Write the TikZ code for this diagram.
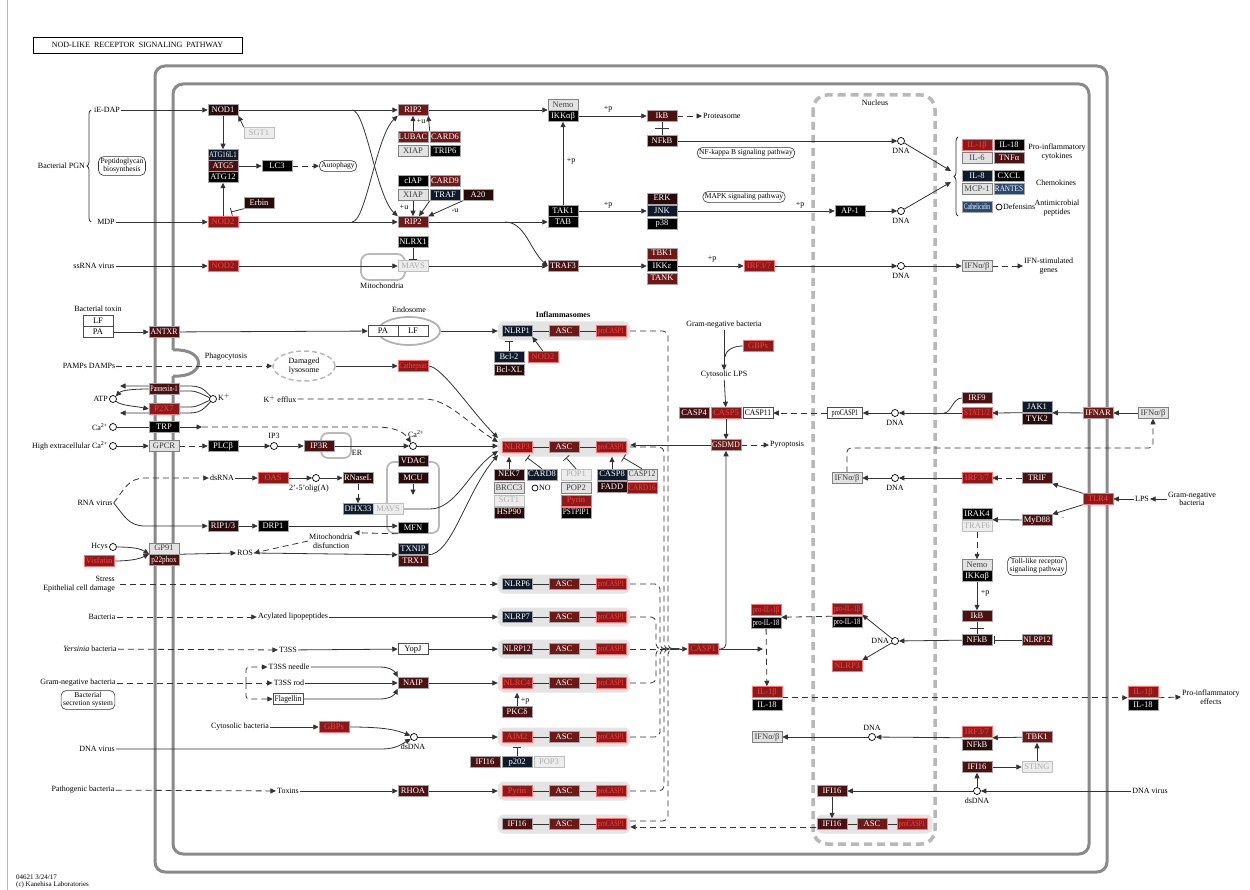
\documentclass[tikz,border=0pt]{standalone}
\usepackage{fontspec}
\setmainfont{Liberation Serif}
\usepackage{graphicx}
\usetikzlibrary{arrows.meta,shapes.geometric,calc,decorations.pathreplacing}
\pgfdeclarelayer{back}
\pgfdeclarelayer{lines}
\pgfsetlayers{back,lines,main}
\definecolor{cA}{HTML}{2A0B0B}
\definecolor{cB}{HTML}{4E1111}
\definecolor{cC}{HTML}{6E1818}
\definecolor{cR}{HTML}{8C1A1A}
\definecolor{cRt}{HTML}{FF4040}
\definecolor{cRb}{HTML}{FF7070}
\definecolor{cN}{HTML}{0F1B2B}
\definecolor{cBl}{HTML}{2B4A72}
\definecolor{cG}{HTML}{E2E2E2}
\definecolor{cL}{HTML}{EDEDED}
\definecolor{mem}{HTML}{8A8A8A}
\definecolor{bandc}{HTML}{E4E4E4}
\definecolor{nuc}{HTML}{B8B8B8}
\newcommand{\myS}[2]{\scalebox{#1}[1]{#2}}
\newcommand{\pcs}{\myS{0.72}{proCASP1}}
\tikzset{
 box/.style={draw=gray!70, line width=0.5pt, minimum width=30pt, minimum height=11pt, inner sep=0pt, font=\fontsize{8.5}{9}\selectfont, text height=5.8pt, text depth=1.6pt},
 gA/.style={box, fill=cA, text=white},
 gB/.style={box, fill=cB, text=white},
 gC/.style={box, fill=cC, text=white},
 gR/.style={box, fill=cR, text=cRt, draw=cRb},
 gK/.style={box, fill=black, text=white},
 gN/.style={box, fill=cN, text=white},
 gBl/.style={box, fill=cBl, text=white},
 gG/.style={box, fill=cG, text=black!75, draw=gray},
 gL/.style={box, fill=cL, text=gray!65, draw=gray!50},
 gW/.style={box, fill=white, text=black, draw=black!70},
 lbl/.style={font=\fontsize{8}{8.6}\selectfont, inner sep=1pt, align=center},
 dnac/.style={circle, draw=black, fill=white, minimum size=7pt, inner sep=0pt, line width=0.7pt},
 ln/.style={line width=0.8pt, draw=black!80},
 ar/.style={ln, -{Triangle[length=5.5pt,width=5pt]}},
 da/.style={ar, dash pattern=on 6pt off 4pt},
 dl/.style={ln, dash pattern=on 6pt off 4pt},
 inh/.style={ln, -{Bar[width=8pt]}},
 pw/.style={draw=black!80, line width=0.6pt, rounded corners=5pt, font=\fontsize{7.5}{8}\selectfont, inner sep=2pt, align=center},
 memb/.style={draw=mem, line width=3pt},
 bandst/.style={fill=bandc, rounded corners=6pt, minimum width=132pt, minimum height=19pt, inner sep=0pt},
 shp/.style={draw=gray!55, line width=1.8pt},
}
\begin{document}
\begin{tikzpicture}[x=1pt,y=-1pt]
\useasboundingbox (0,0) rectangle (1250,890);
\begin{pgfonlayer}{back}
\fill[white] (0,0) rectangle (1250,890);
\draw[gray!55, line width=0.8pt] (7,0) -- (7,890);
\draw[memb, rounded corners=10pt] (155,66) rectangle (1107,872);
\draw[memb, rounded corners=10pt] (173,350) -- (173,84) -- (1089,84) -- (1089,854) -- (173,854) -- (173,376);
\draw[memb] (173,376) .. controls (207,378) and (207,348) .. (173,350);
\draw[nuc, line width=3.5pt, dash pattern=on 8pt off 5pt, rounded corners=14pt] (813,95) rectangle (935,844);
\draw[shp, rounded corners=8pt] (361,254) rectangle (405,280);
\draw[shp, rounded corners=7pt] (321,433) rectangle (351,458);
\draw[shp, rounded corners=7pt] (387,462) rectangle (439,533);
\node[bandst] (band1) at (564,331) {};
\node[bandst] (band2) at (564,447) {};
\node[bandst] (band3) at (564,584) {};
\node[bandst] (band4) at (564,617) {};
\node[bandst] (band5) at (564,649) {};
\node[bandst] (band6) at (564,683) {};
\node[bandst] (band7) at (564,737) {};
\node[bandst] (band8) at (564,791) {};
\node[bandst] (band9) at (564,824) {};
\node[bandst, minimum width=116pt] (nband) at (874.5,824) {};
\end{pgfonlayer}

% ---------- title / footer
\node[draw, line width=0.8pt, minimum width=209pt, minimum height=16pt, inner sep=0pt, font=\fontsize{8}{9}\selectfont] (title) at (137.5,45) {NOD-LIKE\ \ RECEPTOR\ \ SIGNALING\ \ PATHWAY};
\node[lbl, anchor=west, font=\fontsize{7}{7.5}\selectfont] (ver) at (15,877) {04621 3/24/17};
\node[lbl, anchor=west, font=\fontsize{7}{7.5}\selectfont] (copyr) at (15,885) {(c) Kanehisa Laboratories};
\node[lbl] (nucl) at (875,103) {Nucleus};
\node[lbl, font=\fontsize{8}{9}\selectfont\bfseries] (inflam) at (563,315) {Inflammasomes};

% ---------- top left
\node[lbl] (iedap) at (107,110) {iE-DAP};
\node[lbl] (mdp) at (106,222) {MDP};
\node[lbl, anchor=east] (bpgn) at (86,166) {Bacterial PGN};
\node[pw] (pgbio) at (122,166) {Peptidoglycan\\biosynthesis};
\node[gA] (nod1) at (223,110) {NOD1};
\node[gL] (sgt1a) at (259,133) {SGT1};
\node[gN] (atg16) at (223,155) {\myS{0.8}{ATG16L1}};
\node[gB] (atg5) at (223,166) {ATG5};
\node[gK] (atg12) at (223,177) {ATG12};
\node[gK] (lc3) at (277,166) {LC3};
\node[pw] (autoph) at (338,166) {Autophagy};
\node[gA] (erbin) at (259,203) {Erbin};
\node[gR] (nod2a) at (223,222) {NOD2};
\node[lbl] (ssrna) at (94,266) {ssRNA virus};
\node[gR] (nod2b) at (223,266) {NOD2};
\coordinate (erbT) at (231,212);
\coordinate (x1) at (352,110);
\coordinate (x2) at (352,222);

% ---------- RIP2 block
\node[gC] (rip2a) at (413,110) {RIP2};
\node[gC] (lubac) at (413,137) {LUBAC};
\node[gC] (card6) at (445,137) {CARD6};
\node[gG] (xiap1) at (413,151) {XIAP};
\node[gK] (trip6) at (445,151) {TRIP6};
\node[gK] (ciap) at (413,181) {cIAP};
\node[gC] (card9) at (445,181) {CARD9};
\node[gG] (xiap2) at (413,195) {XIAP};
\node[gN] (traf) at (445,195) {TRAF};
\node[gA] (a20) at (478,195) {A20};
\node[gC] (rip2b) at (413,222) {RIP2};
\node[lbl] (pu1) at (421,121) {+u};
\node[lbl] (pu2) at (404,207) {+u};
\node[lbl] (mu1) at (455,211) {-u};
\node[gK] (nlrx1) at (413,242) {NLRX1};
\node[gL] (mavs1) at (413,266) {MAVS};
\node[lbl] (mitol) at (382,286) {Mitochondria};
\node[gG] (nemo1) at (563,105) {Nemo};
\node[gK] (ikk1) at (563,116) {IKKαβ};
\node[gK] (tak1) at (563,211) {TAK1};
\node[gK] (tab) at (563,222) {TAB};
\node[gB] (traf3) at (563,266) {TRAF3};
\node[lbl] (pp1) at (571,161) {+p};
\node[lbl] (pp2) at (608,109) {+p};
\node[lbl] (pp3) at (608,205) {+p};
\coordinate (x3) at (505,222);

% ---------- top middle
\node[gB] (ikb1) at (662,116) {IkB};
\node[gA] (nfkb1) at (662,141) {NFkB};
\node[lbl, anchor=west] (protea) at (702,116) {Proteasome};
\node[dnac] (dna1) at (901,141) {};
\node[lbl] (dna1l) at (901,151) {DNA};
\node[pw] (nfkbp) at (746,153) {NF-kappa B signaling pathway};
\node[gA] (erk) at (662,198.5) {ERK};
\node[gN] (jnk) at (662,211) {JNK};
\node[gK] (p38) at (662,223.5) {p38};
\node[pw] (mapkp) at (744,197) {MAPK signaling pathway};
\node[gK] (ap1) at (850,211) {AP-1};
\node[lbl] (pp4) at (800,205) {+p};
\node[dnac] (dna2) at (901,211) {};
\node[lbl] (dna2l) at (901,221) {DNA};
\node[gC] (tbk1a) at (662,253.5) {TBK1};
\node[gK] (ikke) at (662,266) {IKKε};
\node[gC] (tank) at (662,278.5) {TANK};
\node[gR] (irf37a) at (759,266) {IRF3/7};
\node[lbl] (pp5) at (712,259) {+p};
\node[dnac] (dna3) at (901,266) {};
\node[lbl] (dna3l) at (901,276) {DNA};
\node[gG] (ifnab1) at (977,266) {IFNα/β};
\node[lbl, anchor=west] (isg) at (1023,266) {IFN-stimulated\\genes};

% ---------- cytokines
\node[gR] (il1b1) at (977,145) {IL-1β};
\node[gK] (il18a) at (1009,145) {IL-18};
\node[gG] (il6) at (977,158) {IL-6};
\node[gB] (tnfa) at (1009,158) {TNFα};
\node[gN] (il8) at (977,176) {IL-8};
\node[gK] (cxcl) at (1009,176) {CXCL};
\node[gG] (mcp1) at (977,189) {MCP-1};
\node[gBl] (rantes) at (1009,189) {\myS{0.85}{RANTES}};
\node[gBl] (cathel) at (977,207) {\myS{0.62}{Cathelicidin}};
\node[dnac, minimum size=6pt] (defc) at (999,207) {};
\node[lbl, anchor=west] (defl) at (1002,207) {Defensins};
\node[lbl] (procyt) at (1057,152) {Pro-inflammatory\\cytokines};
\node[lbl] (chemo) at (1056,183) {Chemokines};
\node[lbl] (antimic) at (1057,208) {Antimicrobial\\peptides};
\coordinate (cyt1) at (951,171);
\coordinate (cyt2) at (951,182);

% ---------- left middle
\node[lbl] (btox) at (98,309) {Bacterial toxin};
\node[gW] (lf1) at (98,321) {LF};
\node[gW] (pa1) at (98,332) {PA};
\node[gB] (antxr) at (164,332) {\myS{0.92}{ANTXR}};
\node[ellipse, draw=gray!60, line width=1.8pt, minimum width=62pt, minimum height=28pt, inner sep=0pt] (endo) at (409,331) {};
\node[lbl] (endol) at (409,310) {Endosome};
\node[gW] (pa2) at (383,331) {PA};
\node[gW] (lf2) at (413,331) {LF};
\node[lbl] (pamps) at (89,366) {PAMPs DAMPs};
\node[lbl] (phago) at (226,357) {Phagocytosis};
\node[ellipse, draw=gray!55, line width=1.5pt, dash pattern=on 5pt off 3pt, minimum width=62pt, minimum height=30pt, inner sep=0pt, lbl] (dlys) at (304,366) {Damaged\\lysosome};
\node[gR] (cathep) at (413,366) {\myS{0.8}{Cathepsin}};
\node[lbl, anchor=east] (atpl) at (109,399) {ATP};
\node[dnac] (atp) at (113,399) {};
\node[gB] (panx) at (164,389) {\myS{0.7}{Pannexin-1}};
\node[gR] (p2x7) at (164,409) {P2X7};
\node[dnac] (kc) at (213,399) {};
\node[lbl, anchor=west] (kl) at (217,397) {K$^+$};
\node[lbl] (kefflux) at (280,399) {K$^+$ efflux};
\coordinate (atpU) at (120,386);
\coordinate (atpD) at (120,413);
\node[lbl, anchor=east] (cal) at (109,427) {Ca\textsuperscript{2+}};
\node[dnac] (cac) at (113,427) {};
\node[gK] (trp) at (164,427) {TRP};
\coordinate (trpA) at (202,427);
\node[lbl, anchor=east] (hec) at (109,446) {High extracellular Ca\textsuperscript{2+}};
\node[dnac] (hecc) at (113,446) {};
\node[gG] (gpcr) at (164,446) {GPCR};
\node[gK] (plcb) at (223,446) {PLCβ};
\node[dnac] (ip3) at (274,446) {};
\node[lbl] (ip3l) at (274,436) {IP3};
\node[gB] (ip3r) at (319,446) {IP3R};
\node[lbl] (erl) at (357,453) {ER};
\node[dnac] (ca2) at (413,446) {};
\node[lbl] (ca2l) at (416,434) {Ca\textsuperscript{2+}};
\node[gA] (vdac) at (413,461) {VDAC};
\node[gA] (mcu) at (413,478) {MCU};
\coordinate (mcuA) at (413,495);
\node[gK] (mfn) at (413,528) {MFN};
\node[gN] (dhx33) at (358,509) {DHX33};
\node[gL] (mavs2) at (388,509) {MAVS};
\node[gA] (rnasel) at (358,478) {RNaseL};
\node[dnac] (olig) at (316,478) {};
\node[lbl] (oligl) at (309,489) {2'-5'olig(A)};
\node[gR] (oas) at (273,478) {OAS};
\node[lbl] (dsrna) at (222,478) {dsRNA};
\node[lbl] (rnav) at (95,503) {RNA virus};
\node[gA] (rip13) at (223,526) {RIP1/3};
\node[gK] (drp1) at (273,526) {DRP1};
\node[lbl] (mdisf) at (331,541) {Mitochondria\\disfunction};
\node[lbl] (ros) at (245,553) {ROS};
\node[gG] (gp91) at (164,548.5) {GP91};
\node[gB] (p22) at (164,560) {\myS{0.85}{p22phox}};
\node[lbl, anchor=east] (hcysl) at (109,547) {Hcys};
\node[dnac] (hcys) at (113,547) {};
\node[gR] (visf) at (99,561) {Visfatin};
\coordinate (gpin) at (149,554);
\node[gN] (txnip) at (413,549) {TXNIP};
\node[gB] (trx1) at (413,561) {TRX1};
\coordinate (n3a) at (498,438);
\coordinate (n3b) at (498,442);
\coordinate (n3c) at (498,446);
\coordinate (n3d) at (498,451);
\coordinate (n3e) at (498,455);

% ---------- inflammasomes
\node[gN] (nlrp1) at (517,331) {NLRP1};
\node[gC] (asc1) at (564,331) {ASC};
\node[gR] (pc1) at (611,331) {\pcs};
\node[gN] (bcl2) at (509,357) {Bcl-2};
\node[gA] (bclxl) at (509,370) {Bcl-XL};
\node[gR] (nod2c) at (543,357) {NOD2};
\node[gR] (nlrp3) at (517,447) {NLRP3};
\node[gC] (asc2) at (564,447) {ASC};
\node[gR] (pc2) at (611,447) {\pcs};
\node[gA] (nek7) at (509,474.5) {NEK7};
\node[gN] (card8) at (542,474.5) {CARD8};
\node[gG] (brcc3) at (509,488) {BRCC3};
\node[dnac, minimum size=6pt] (noc) at (535,488) {};
\node[lbl, anchor=west] (nol) at (538,488) {NO};
\node[gL] (sgt1b) at (509,500.5) {SGT1};
\node[gA] (hsp90) at (509,512.5) {HSP90};
\node[gL] (pop1) at (576,474.5) {POP1};
\node[gG] (pop2) at (576,488) {POP2};
\node[gR] (pyrin1) at (576,500.5) {Pyrin};
\node[gK] (pstpip) at (576,512.5) {\myS{0.85}{PSTPIP1}};
\node[gN] (casp8) at (612,474.5) {CASP8};
\node[gA] (fadd) at (612,487) {FADD};
\node[gG] (casp12) at (642,474.5) {\myS{0.9}{CASP12}};
\node[gR] (card16) at (642,488) {\myS{0.85}{CARD16}};
\node[gN] (nlrp6) at (517,584) {NLRP6};
\node[gC] (asc3) at (564,584) {ASC};
\node[gR] (pc3) at (611,584) {\pcs};
\node[gN] (nlrp7) at (517,617) {NLRP7};
\node[gC] (asc4) at (564,617) {ASC};
\node[gR] (pc4) at (611,617) {\pcs};
\node[gB] (nlrp12) at (517,649) {\myS{0.9}{NLRP12}};
\node[gC] (asc5) at (564,649) {ASC};
\node[gR] (pc5) at (611,649) {\pcs};
\node[gR] (nlrc4) at (517,683) {NLRC4};
\node[gC] (asc6) at (564,683) {ASC};
\node[gR] (pc6) at (611,683) {\pcs};
\node[gB] (pkcd) at (517,712) {PKCδ};
\node[lbl] (pp6) at (525,701) {+p};
\node[gR] (aim2) at (517,737) {AIM2};
\node[gC] (asc7) at (564,737) {ASC};
\node[gR] (pc7) at (611,737) {\pcs};
\node[gB] (ifi16a) at (485,762) {IFI16};
\node[gN] (p202) at (517,762) {p202};
\node[gL] (pop3) at (549,762) {POP3};
\node[gR] (pyrin2) at (517,791) {Pyrin};
\node[gC] (asc8) at (564,791) {ASC};
\node[gR] (pc8) at (611,791) {\pcs};
\node[gB] (ifi16b) at (517,824) {IFI16};
\node[gC] (asc9) at (564,824) {ASC};
\node[gR] (pc9) at (611,824) {\pcs};

% ---------- lower left inputs
\node[lbl, anchor=east, align=right] (stress) at (116,584) {Stress\\Epithelial cell damage};
\node[lbl] (bact) at (102,617) {Bacteria};
\node[lbl] (acyl) at (293,617) {Acylated lipopeptides};
\node[lbl] (yers) at (90,649) {\textit{Yersinia} bacteria};
\node[lbl] (t3ss) at (288,650) {T3SS};
\node[gW] (yopj) at (413,649) {YopJ};
\node[lbl] (gramneg1) at (78,683) {Gram-negative bacteria};
\node[pw] (bss) at (88,700) {Bacterial\\secretion system};
\coordinate (gsplit) at (246,683);
\node[lbl] (t3n) at (289,667) {T3SS needle};
\node[lbl] (t3r) at (289,683) {T3SS rod};
\node[gW] (flag) at (288,699) {\myS{0.88}{Flagellin}};
\node[gB] (naip) at (413,683) {NAIP};
\node[lbl] (cytbac) at (240,727) {Cytosolic bacteria};
\node[gR] (gbps1) at (334,727) {GBPs};
\node[dnac] (dsdna1) at (414,737) {};
\node[lbl] (dsdna1l) at (413,747) {dsDNA};
\node[lbl] (dnavir1) at (97,749) {DNA virus};
\node[lbl] (pathb) at (83,790) {Pathogenic bacteria};
\node[lbl] (toxins) at (288,791) {Toxins};
\node[gB] (rhoa) at (413,791) {RHOA};

% ---------- middle right
\node[gR] (casp1) at (703,649) {CASP1};
\coordinate (cin) at (680,649);
\coordinate (c1a) at (763,649);
\node[gC] (gsdmd) at (726,445) {\myS{0.9}{GSDMD}};
\node[lbl, anchor=west] (pyro) at (769,445) {Pyroptosis};
\node[lbl] (gramneg2) at (724,325) {Gram-negative bacteria};
\node[lbl] (clps) at (724,375) {Cytosolic LPS};
\node[gR] (gbps2) at (758,346) {GBPs};
\coordinate (gbj) at (725,357);
\node[gB] (casp4) at (694,413) {CASP4};
\node[gR] (casp5) at (726,413) {CASP5};
\node[gW] (casp11) at (758,413) {\myS{0.9}{CASP11}};
\node[gW, minimum width=35pt] (pcn) at (845,413) {\pcs};
\node[dnac] (dna4) at (895,413) {};
\node[lbl] (dna4l) at (895,423) {DNA};
\node[gB] (irf9) at (977,398) {IRF9};
\node[gR] (stat) at (977,413) {\myS{0.85}{STAT1/2}};
\coordinate (irfj) at (944,413);
\node[gN] (jak1) at (1037,407) {JAK1};
\node[gA] (tyk2) at (1037,419) {TYK2};
\node[gC] (ifnar) at (1098,413) {IFNAR};
\node[gG] (ifnab2) at (1153,413) {IFNα/β};
\node[gG] (ifnab3) at (847,478) {IFNα/β};
\node[dnac] (dna5) at (895,478) {};
\node[lbl] (dna5l) at (895,488) {DNA};
\node[gR] (irf37b) at (977,478) {IRF3/7};
\node[gB] (trif) at (1037,478) {TRIF};
\node[gR] (tlr4) at (1098,499) {TLR4};
\node[gB] (myd88) at (1037,520) {MyD88};
\node[lbl] (dotp) at (1063,518) {.};
\node[gK] (irak4) at (977,514) {IRAK4};
\node[gL] (traf6) at (977,526) {TRAF6};
\node[lbl] (lps) at (1142,499) {LPS};
\node[lbl] (gramneg3) at (1192,499) {Gram-negative\\bacteria};
\node[gG] (nemo2) at (977,565) {Nemo};
\node[gK] (ikk2) at (977,576) {IKKαβ};
\node[pw] (tlrp) at (1037,566) {Toll-like receptor\\signaling pathway};
\node[gB] (ikb2) at (977,616) {IkB};
\node[lbl] (pp7) at (985,593) {+p};
\node[gA] (nfkb2) at (977,640) {NFkB};
\node[gB] (nlrp12b) at (1037,640) {\myS{0.9}{NLRP12}};
\node[dnac] (dna6) at (895,641) {};
\node[lbl, anchor=east] (dna6l) at (890,641) {DNA};
\node[gR] (proil1b2) at (847,609) {\myS{0.8}{pro-IL-1β}};
\node[gK] (proil18b) at (847,622) {\myS{0.8}{pro-IL-18}};
\node[gR] (nlrp3b) at (847,666) {NLRP3};
\node[gR] (proil1b1) at (766,610) {\myS{0.8}{pro-IL-1β}};
\node[gK] (proil18a) at (766,623) {\myS{0.8}{pro-IL-18}};
\node[gR] (il1b2) at (767,692) {IL-1β};
\node[gK] (il18b) at (767,705) {IL-18};
\node[gR] (il1b3) at (1143,692) {IL-1β};
\node[gK] (il18c) at (1143,705) {IL-18};
\node[lbl, anchor=west] (proinf) at (1181,697) {Pro-inflammatory\\effects};
\node[gG] (ifnab4) at (767,737) {IFNα/β};
\node[dnac] (dna7) at (872,737) {};
\node[lbl] (dna7l) at (872,728) {DNA};
\node[gR] (irf37c) at (977,732) {IRF3/7};
\node[gA] (nfkb3) at (977,745) {NFkB};
\node[gC] (tbk1b) at (1037,737) {TBK1};
\node[gB] (ifi16c) at (977,767) {IFI16};
\node[gL] (sting) at (1037,767) {STING};
\node[dnac] (dsdna2) at (977,791) {};
\node[lbl] (dsdna2l) at (977,801) {dsDNA};
\node[lbl] (dnavir2) at (1150,791) {DNA virus};
\node[gB] (ifi16d) at (832,791) {IFI16};
\node[gB] (ifi16e) at (832,824) {IFI16};
\node[gC] (asc10) at (872,824) {ASC};
\node[gR] (pc10) at (912,824) {\pcs};

% ================= connectors
\begin{pgfonlayer}{lines}
\draw[ln, decorate, decoration={brace, amplitude=4pt}] (91,222) -- (91,110);
\draw[ln, decorate, decoration={brace, amplitude=4pt}] (958,216) -- (958,137);
\draw[ar] (iedap) -- (nod1);
\draw[ar] (mdp) -- (nod2a);
\draw[ar] (ssrna) -- (nod2b);
\draw[ar] (sgt1a.north west) -- (nod1.south east);
\draw[ar] (nod1) -- (atg16);
\draw[ar] (nod2a) -- (atg12);
\draw[ar] (atg5) -- (lc3);
\draw[da] (lc3) -- (autoph);
\draw[inh] (erbin.south west) -- (erbT);
\draw[ar] (nod1) -- (rip2a);
\draw[ar] (nod2a) -- (rip2b);
\draw[ar] (x1) .. controls (366,110) and (376,196) .. (rip2b.north west);
\draw[ar] (x2) .. controls (366,222) and (376,136) .. (rip2a.south west);
\draw[ar] (lubac) -- (rip2a);
\draw[ar] (card6.north west) -- (rip2a.south east);
\draw[ar] (xiap2) -- (rip2b);
\draw[ar] (traf.south west) -- ($(rip2b.north)+(6,0)$);
\draw[ar] (a20.south west) -- (rip2b.north east);
\draw[ar] (rip2a) -- (rip2a -| ikk1.west);
\draw[ar] (rip2b) -- (tab);
\draw[ar] (tak1) -- (ikk1);
\draw[ar] (x3) .. controls (525,222) and (530,250) .. (traf3.west);
\draw[inh] (nlrx1) -- (mavs1);
\draw[ar] (nod2b) -- (mavs1);
\draw[ar] (mavs1) -- (traf3);
\draw[ar] (ikk1) -- (ikb1);
\draw[da] (ikb1) -- (protea);
\draw[ln] (ikb1) -- (nfkb1);
\draw[ln] ($(ikb1)!0.5!(nfkb1)+(-7,0)$) -- ($(ikb1)!0.5!(nfkb1)+(7,0)$);
\draw[ar] (nfkb1) -- (dna1);
\draw[ar] (tak1) -- (jnk);
\draw[ar] (jnk) -- (ap1);
\draw[ar] (ap1) -- (dna2);
\draw[ar] (traf3) -- (ikke);
\draw[ar] (ikke) -- (irf37a);
\draw[ar] (irf37a) -- (dna3);
\draw[ar] (dna3) -- (ifnab1);
\draw[da] (ifnab1) -- (isg);
\draw[ar] (dna1) -- (cyt1);
\draw[ar] (dna2) -- (cyt2);
% left middle
\draw[ar] (pa1) -- (antxr);
\draw[ar] (antxr) -- (pa2);
\draw[ar] (endo) -- (band1);
\draw[ln] (nlrp1) -- (asc1) -- (pc1);
\draw[inh] (bcl2.north) -- (bcl2.north |- band1.south);
\draw[ar] (nod2c.north) -- (nlrp1.south east);
\draw[da] (pamps) -- (dlys);
\draw[ar] (dlys) -- (cathep);
\draw[ar] (cathep.east) .. controls (442,366) and (470,410) .. (n3a);
\draw[da] (kefflux) -- (425,399) .. controls (448,399) and (470,425) .. (n3b);
\draw[ar] (panx.west) .. controls (135,389) and (122,390) .. (atp);
\draw[ar] (atp) .. controls (122,406) and (135,406) .. (p2x7.west);
\draw[ar] (kc) .. controls (203,388) and (200,386) .. (188,386) -- (atpU);
\draw[ar] (kc) .. controls (203,410) and (200,413) .. (188,413) -- (atpD);
\draw[ln] ($(panx.east)+(0,2)$) -- (190,391) .. controls (198,391) and (203,395) .. (kc);
\draw[ln] ($(p2x7.east)+(0,-2)$) -- (190,407) .. controls (198,407) and (203,403) .. (kc);
\draw[ln] (cac) -- (trp);
\draw[ar] (trp) -- (trpA);
\draw[da] (trpA) -- (375,427) .. controls (395,427) and (404,432) .. (ca2);
\draw[ar] (hecc) -- (gpcr);
\draw[da] (gpcr) -- (plcb);
\draw[ar] (plcb) -- (ip3);
\draw[ar] (ip3) -- (ip3r);
\draw[ar] (ip3r) -- (ca2);
\draw[ar] (ca2) -- (n3c);
\draw[ar] (mcu) -- (mcuA);
\draw[da] (rnav.east) .. controls (124,490) and (128,478) .. (145,478) -- (dsrna);
\draw[ar] (rnav.east) .. controls (124,515) and (128,526) .. (145,526) -- (rip13);
\draw[ar] (dsrna) -- (oas);
\draw[ar] (oas) -- (olig);
\draw[ar] (olig) -- (rnasel);
\draw[da] (rnasel) -- (dhx33);
\draw[ar] (mavs2.east) -- (430,509) .. controls (456,509) and (470,470) .. (n3d);
\draw[ln] ($(mavs2.south)+(12,0)$) -- ($(mavs2.south)+(12,0)$ |- mfn.north);
\draw[ar] (rip13) -- (drp1);
\draw[ar] (drp1) -- (drp1 -| mfn.west);
\draw[da] (mfn.south west) -- (mdisf.north east);
\draw[da] (mdisf.west) -- (ros.east);
\draw[ar] (hcys) .. controls (134,547) and (141,549) .. (gpin);
\draw[ar] (visf) .. controls (134,561) and (141,558) .. (gpin);
\draw[ar] (p22.north east) -- (ros.west);
\draw[ar] (ros.east) -- (txnip.south west);
\draw[ar] (txnip.south east) .. controls (452,555) and (466,492) .. (n3e);
% NLRP3 complex
\draw[ln] (nlrp3) -- (asc2) -- (pc2);
\draw[ar] (nek7.north) -- (nek7.north |- band2.south);
\draw[inh] (card8.north) -- ($(nlrp3.south east)+(-5,5)$);
\draw[inh] (pop1.north) -- ($(asc2.south)+(2,5)$);
\draw[ar] (casp8.north) -- (casp8.north |- band2.south);
\draw[inh] (casp12.north) -- ($(pc2.south east)+(-3,5)$);
% other inflammasomes
\draw[ln] (nlrp6) -- (asc3) -- (pc3);
\draw[ln] (nlrp7) -- (asc4) -- (pc4);
\draw[ln] (nlrp12) -- (asc5) -- (pc5);
\draw[ln] (nlrc4) -- (asc6) -- (pc6);
\draw[ln] (aim2) -- (asc7) -- (pc7);
\draw[ln] (pyrin2) -- (asc8) -- (pc8);
\draw[ln] (ifi16b) -- (asc9) -- (pc9);
\draw[ln] (ifi16e) -- (asc10) -- (pc10);
\draw[da, shorten <=4pt] (stress) -- (band3);
\draw[da] (bact) -- (acyl);
\draw[ar] (acyl) -- (band4);
\draw[da] (yers) -- (t3ss);
\draw[ar] (t3ss) -- (yopj);
\draw[ar] (yopj) -- (band5);
\draw[dl] (gramneg1) -- (gsplit);
\draw[da, rounded corners=3pt] (gsplit) |- (t3n);
\draw[da] (gsplit) -- (t3r);
\draw[da, rounded corners=3pt] (gsplit) |- (flag);
\draw[ar] (t3n) -- (380,667) .. controls (391,667) and (395,672) .. (naip.north west);
\draw[ar] (t3r) -- (naip);
\draw[ar] (flag) -- (380,699) .. controls (391,699) and (395,694) .. (naip.south west);
\draw[ar] (naip) -- (band6);
\draw[ar] (pkcd) -- (pkcd.north |- band6.south);
\draw[ar] (cytbac) -- (gbps1);
\draw[ar] (gbps1) .. controls (385,727) and (396,730) .. (dsdna1);
\draw[ar] (dnavir1) -- (382,749) .. controls (396,749) and (402,744) .. (dsdna1);
\draw[ar] (dsdna1) -- (band7);
\draw[inh] (p202) -- (p202.north |- band7.south);
\draw[da] (pathb) -- (toxins);
\draw[ar] (toxins) -- (rhoa);
\draw[ar] (rhoa) -- (band8);
% to CASP1
\draw[dl, rounded corners=5pt] (band1.east) -| (668,649) -- (cin);
\draw[dl, rounded corners=5pt] (band2.east) -| (664,649) -- (cin);
\draw[dl, rounded corners=5pt] (band3.east) -| (660,649) -- (cin);
\draw[dl, rounded corners=5pt] (band4.east) -| (656,649) -- (cin);
\draw[dl] (band5.east) -- (cin);
\draw[dl, rounded corners=5pt] (band6.east) -| (656,649) -- (cin);
\draw[dl, rounded corners=5pt] (band7.east) -| (660,649) -- (cin);
\draw[dl, rounded corners=5pt] (band8.east) -| (664,649) -- (cin);
\draw[dl, rounded corners=5pt] ($(band9.east)+(0,-3)$) -| (668,649) -- (cin);
\draw[ar] (cin) -- (casp1);
\draw[da] ($(nband.west)+(0,3)$) -- ($(band9.east)+(0,3)$);
\draw[ar, rounded corners=5pt] (casp1.east) -| (gsdmd.south);
\draw[ar] (casp1) -- (c1a);
\draw[ar] (gsdmd.west) -- (gsdmd.west -| band2.east);
\draw[da] (gsdmd) -- (pyro);
\draw[ar] (gramneg2) -- (clps);
\draw[ln] (gbps2.west) .. controls (735,346) and (726,349) .. (gbj);
\draw[ar] (clps) -- (casp5);
\draw[ar] (casp5) -- (gsdmd);
\draw[da] (pcn) -- (casp11);
\draw[ar] (dna4) -- (pcn);
\draw[ar] (stat) -- (dna4);
\draw[ln] (irf9.west) .. controls (953,398) and (951,413) .. (irfj);
\draw[ar] (jak1.south west) -- (stat.east);
\draw[ar] (ifnar) -- (jak1.south east);
\draw[ar] (ifnab2) -- (ifnar);
\draw[da, rounded corners=4pt] (ifnab3.north) |- (1153,448) -- (ifnab2.south);
\draw[ar] (dna5) -- (ifnab3);
\draw[ar] (irf37b) -- (dna5);
\draw[da] (trif) -- (irf37b);
\draw[ar] (tlr4.north west) -- (trif.south east);
\draw[ar] (tlr4.south west) -- (myd88.north east);
\draw[ar] (myd88) -- (irak4.south east);
\draw[ar] (lps) -- (tlr4);
\draw[ar] (gramneg3) -- (lps);
\draw[da] (traf6) -- (nemo2);
\draw[ar] (ikk2) -- (ikb2);
\draw[ln] (ikb2) -- (nfkb2);
\draw[ln] ($(ikb2)!0.5!(nfkb2)+(-7,0)$) -- ($(ikb2)!0.5!(nfkb2)+(7,0)$);
\draw[inh, shorten >=2pt] (nlrp12b) -- (nfkb2);
\draw[ar] (nfkb2) -- (dna6);
\draw[ar] (dna6) -- (proil1b2.south east);
\draw[ar] (dna6) -- (nlrp3b.north east);
\draw[da] (proil18b.north west) -- (proil18a.north east);
\draw[da] (proil18a) -- (il1b2);
\draw[da] (il1b2.south east) -- (il1b3.south west);
\draw[da] (il1b3.south east) -- (proinf.west);
\draw[ar] (dna7) -- (ifnab4);
\draw[ar] (irf37c.south west) -- (dna7);
\draw[ar] (tbk1b) -- (irf37c.south east);
\draw[ar] (ifi16c) -- (sting);
\draw[ar] (sting) -- (tbk1b);
\draw[ar] (dsdna2) -- (ifi16c);
\draw[ar] (dnavir2) -- (dsdna2);
\draw[ar] (dsdna2) -- (ifi16d);
\draw[ar] (ifi16d) -- (ifi16e);
\end{pgfonlayer}
\end{tikzpicture}
\end{document}
